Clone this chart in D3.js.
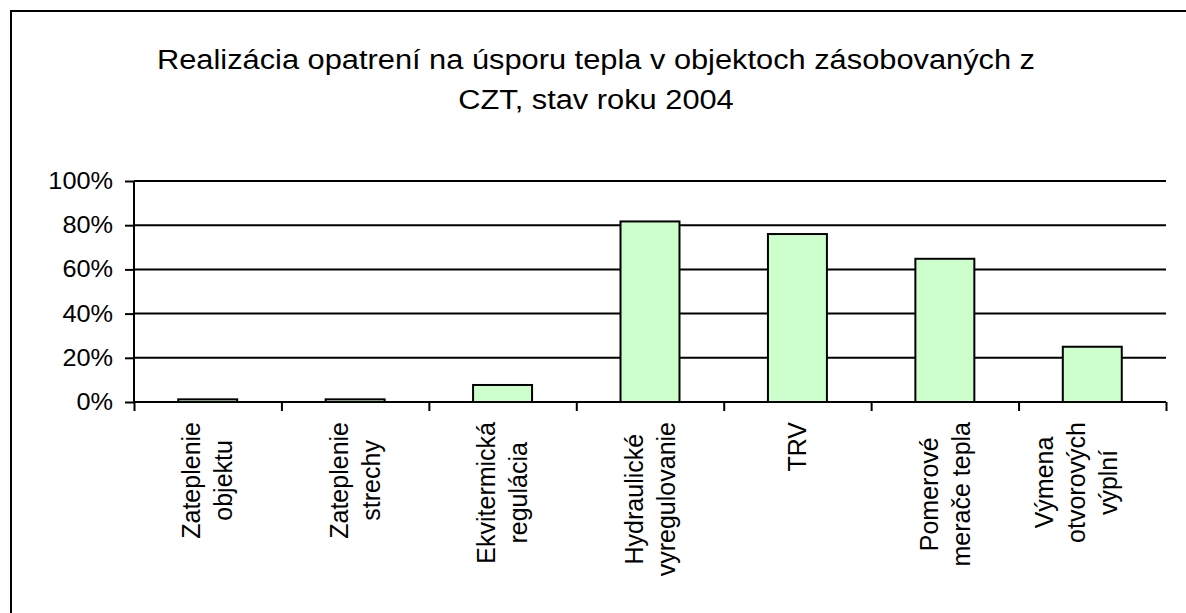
<!DOCTYPE html>
<html>
<head>
<meta charset="utf-8">
<script src="https://cdn.jsdelivr.net/npm/d3@7"></script>
<style>
  body { margin: 0; background: #fff; }
  text { font-family: "Liberation Sans", Arial, sans-serif; fill: #000; }
</style>
</head>
<body>
<svg id="chart" width="1186" height="613"></svg>
<script>
'use strict';

// data
let titleLines = ["Realizácia opatrení na úsporu tepla v objektoch zásobovaných z",
                  "CZT, stav roku 2004"];
let categories = [
  ["Zateplenie", "objektu"],
  ["Zateplenie", "strechy"],
  ["Ekvitermická", "regulácia"],
  ["Hydraulické", "vyregulovanie"],
  ["TRV"],
  ["Pomerové", "merače tepla"],
  ["Výmena", "otvorových", "výplní"]
];
let values = [0.012, 0.012, 0.077, 0.817, 0.76, 0.648, 0.25];
let yTicks = [0, 0.2, 0.4, 0.6, 0.8, 1.0];

let svg = d3.select("#chart"),
    plot = {left: 134, right: 1166, top: 181, bottom: 402},
    stretch = 1.1;   // text in the original is a bit wide

let keys = categories.map(function(d) { return d.join(" "); });

let x = d3.scaleBand()
    .domain(keys)
    .range([plot.left, plot.right])
    .paddingInner(0.6)
    .paddingOuter(0.3);

// edges between categories, for the tick marks
let xEdge = d3.scaleLinear().domain([0, keys.length]).range([plot.left, plot.right]);

let y = d3.scaleLinear().domain([0, 1]).range([plot.bottom, plot.top]);

// outer frame (right and bottom sides run off the picture)
svg.append("rect")
    .attr("x", 11).attr("y", 11)
    .attr("width", 1180).attr("height", 610)
    .attr("fill", "none")
    .attr("stroke", "#000")
    .attr("stroke-width", 2);

// title
svg.selectAll(".title")
    .data(titleLines)
  .enter().append("text")
    .attr("class", "title")
    .attr("transform", function(d, i) { return "translate(596," + (69 + i * 40) + ") scale(" + stretch + ",1)"; })
    .attr("text-anchor", "middle")
    .style("font-size", "28px")
    .text(function(d) { return d; });

// gridlines
svg.append("g")
    .attr("class", "grid")
  .selectAll("line")
    .data(yTicks.slice(1))
  .enter().append("line")
    .attr("x1", plot.left).attr("x2", plot.right)
    .attr("y1", function(d) { return y(d); })
    .attr("y2", function(d) { return y(d); })
    .attr("stroke", "#000")
    .attr("stroke-width", 2);

// bars
svg.append("g")
  .selectAll("rect")
    .data(values)
  .enter().append("rect")
    .attr("x", function(d, i) { return x(keys[i]); })
    .attr("y", function(d) { return y(d); })
    .attr("width", x.bandwidth())
    .attr("height", function(d) { return y(0) - y(d); })
    .attr("fill", "#ccffcc")
    .attr("stroke", "#000")
    .attr("stroke-width", 2);

// y axis
let gy = svg.append("g")
    .attr("transform", "translate(" + plot.left + ",0)")
    .call(d3.axisLeft(y).tickValues(yTicks).tickSize(9).tickFormat(""));
gy.select(".domain").attr("stroke-width", 2).attr("d", "M0," + plot.top + "V" + plot.bottom);
gy.selectAll(".tick line").attr("stroke-width", 2);

svg.append("g")
  .selectAll("text")
    .data(yTicks)
  .enter().append("text")
    .attr("transform", function(d) { return "translate(113," + y(d) + ") scale(" + stretch + ",1)"; })
    .attr("dy", "0.35em")
    .attr("text-anchor", "end")
    .style("font-size", "23px")
    .text(d3.format(".0%"));

// x axis
let gx = svg.append("g")
    .attr("transform", "translate(0," + plot.bottom + ")")
    .call(d3.axisBottom(xEdge).tickValues(d3.range(keys.length + 1)).tickSize(9).tickFormat(""));
gx.select(".domain").attr("stroke-width", 2).attr("d", "M" + plot.left + ",0H" + plot.right);
gx.selectAll(".tick line").attr("stroke-width", 2);

// category labels, rotated; lines are centred on each other and stack
// leftwards from the last one (the way the original wraps them)
let lineH = 32,
    labelTop = 422;
categories.forEach(function(lines, i) {
  let cx = x(keys[i]) + x.bandwidth() / 2,
      n = lines.length;
  let g = svg.append("g");
  let t = g.selectAll("text")
      .data(lines)
    .enter().append("text")
      .style("font-size", "25px")
      .attr("text-anchor", "middle")
      .attr("dy", "0.35em")
      .text(function(d) { return d; });
  let maxLen = d3.max(t.nodes(), function(nd) { return nd.getComputedTextLength(); });
  let cy = labelTop + maxLen / 2;
  t.attr("transform", function(d, j) {
    let off = n === 1 ? 0 : (j - (n - 1) + 0.5) * lineH;
    return "translate(" + (cx + off) + "," + cy + ") rotate(-90)";
  });
});
</script>
</body>
</html>
